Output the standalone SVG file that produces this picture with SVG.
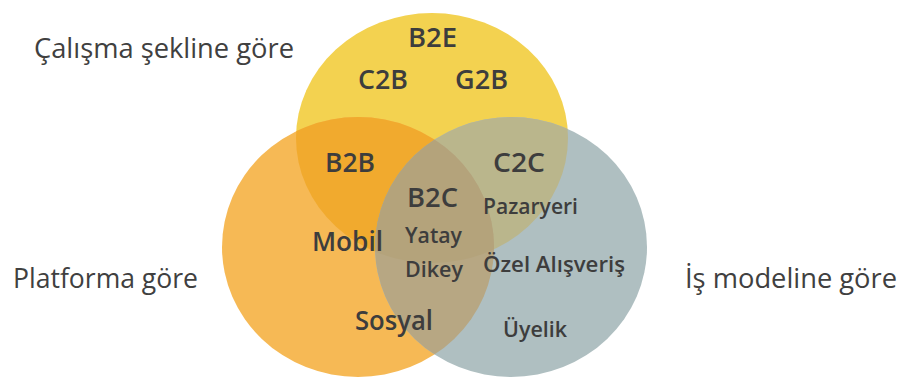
<svg xmlns="http://www.w3.org/2000/svg" width="902" height="385" viewBox="0 0 902 385">
<style>
text{font-family:"Open Sans","Noto Sans","Liberation Sans",sans-serif;fill:#3d3d3d}
.out{font-size:27px;font-weight:400;fill:#404040}
.big{font-size:27.5px;font-weight:600}
.sm{font-size:22px;font-weight:600}
</style>
<defs>
<clipPath id="cy"><ellipse cx="432" cy="138" rx="136" ry="125"/></clipPath>
<clipPath id="co"><ellipse cx="358" cy="247" rx="136" ry="130"/></clipPath>
</defs>
<rect width="902" height="385" fill="#ffffff"/>
<g id="sets">
<g id="set-calisma"><ellipse cx="432" cy="138" rx="136" ry="125" fill="#f3d250"/></g>
<g id="set-platform"><ellipse cx="358" cy="247" rx="136" ry="130" fill="#f6b955"/></g>
<g id="set-ismodel"><ellipse cx="511" cy="247" rx="136" ry="130" fill="#afbfc1"/></g>
<g id="overlap-yo" clip-path="url(#cy)"><ellipse cx="358" cy="247" rx="136" ry="130" fill="#f1aa2e"/></g>
<g id="overlap-yg" clip-path="url(#cy)"><ellipse cx="511" cy="247" rx="136" ry="130" fill="#bab68c"/></g>
<g id="overlap-og" clip-path="url(#co)"><ellipse cx="511" cy="247" rx="136" ry="130" fill="#b7a783"/></g>
<g id="overlap-all" clip-path="url(#cy)"><g clip-path="url(#co)"><ellipse cx="511" cy="247" rx="136" ry="130" fill="#b4a37b"/></g></g>
</g>
<g id="connectors"></g>
<g id="label-calisma"><text class="out" x="34" y="58" textLength="260" lengthAdjust="spacingAndGlyphs">Çalışma şekline göre</text></g>
<g id="label-platform"><text class="out" x="13" y="288" textLength="185" lengthAdjust="spacingAndGlyphs">Platforma göre</text></g>
<g id="label-ismodel"><text class="out" x="685" y="288" textLength="212" lengthAdjust="spacingAndGlyphs">İş modeline göre</text></g>
<g id="node-b2e"><text class="big" x="408" y="47" textLength="49" lengthAdjust="spacingAndGlyphs">B2E</text></g>
<g id="node-c2b"><text class="big" x="358" y="89" textLength="50" lengthAdjust="spacingAndGlyphs">C2B</text></g>
<g id="node-g2b"><text class="big" x="455" y="89" textLength="53" lengthAdjust="spacingAndGlyphs">G2B</text></g>
<g id="node-b2b"><text class="big" x="325" y="172" textLength="50" lengthAdjust="spacingAndGlyphs">B2B</text></g>
<g id="node-c2c"><text class="big" x="493" y="172" textLength="52" lengthAdjust="spacingAndGlyphs">C2C</text></g>
<g id="node-b2c"><text class="big" x="407" y="207" textLength="51" lengthAdjust="spacingAndGlyphs">B2C</text></g>
<g id="node-pazaryeri"><text class="sm" x="483" y="214" textLength="95" lengthAdjust="spacingAndGlyphs">Pazaryeri</text></g>
<g id="node-yatay"><text class="sm" x="405" y="243" textLength="57" lengthAdjust="spacingAndGlyphs">Yatay</text></g>
<g id="node-mobil"><text class="big" x="312" y="251" textLength="71" lengthAdjust="spacingAndGlyphs">Mobil</text></g>
<g id="node-dikey"><text class="sm" x="405" y="277" textLength="58" lengthAdjust="spacingAndGlyphs">Dikey</text></g>
<g id="node-ozel"><text class="sm" x="483" y="272" textLength="142" lengthAdjust="spacingAndGlyphs">Özel Alışveriş</text></g>
<g id="node-sosyal"><text class="big" x="355" y="330" textLength="78" lengthAdjust="spacingAndGlyphs">Sosyal</text></g>
<g id="node-uyelik"><text class="sm" x="503" y="337" textLength="64" lengthAdjust="spacingAndGlyphs">Üyelik</text></g>
</svg>
